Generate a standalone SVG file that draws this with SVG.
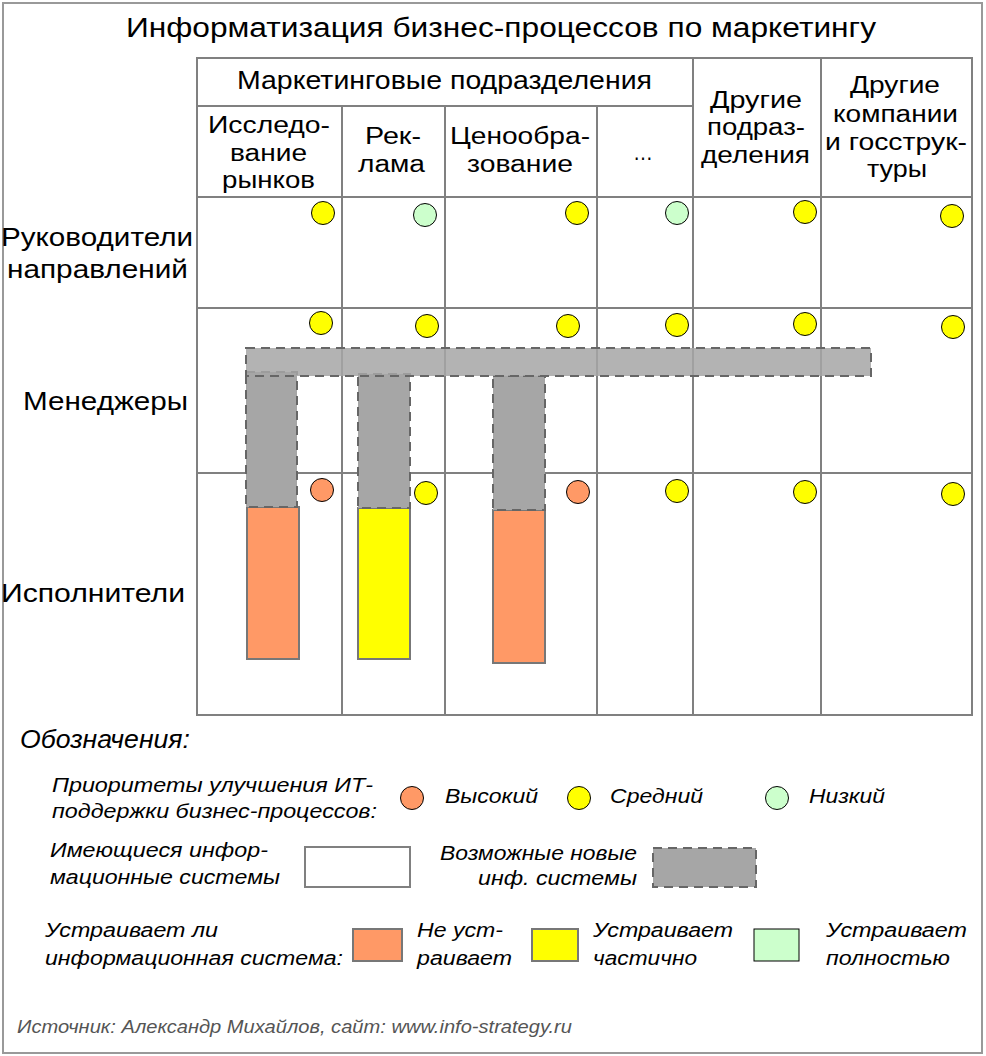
<svg xmlns="http://www.w3.org/2000/svg" width="986" height="1056" viewBox="0 0 986 1056">
<style>
text{font-family:"Liberation Sans",Arial,sans-serif;fill:#000}
.t{font-size:27px}
.h{font-size:23.5px}
.r{font-size:26px}
.lg{font-size:20.5px;font-style:italic}
.grid{stroke:#808080;stroke-width:2;fill:none}
.dot{stroke:#000;stroke-width:1}
.hi{fill:#ff9966}.md{fill:#ffff00}.lo{fill:#ccffcc}
.bar{stroke:#777;stroke-width:2}
.new{fill:#a6a6a6;stroke:#666;stroke-width:2;stroke-dasharray:9,6}
</style>
<rect x="3" y="3" width="979" height="1050" fill="#fff" stroke="#999" stroke-width="2"/>
<text id="title" class="t" x="126" y="37" textLength="750" lengthAdjust="spacingAndGlyphs">Информатизация бизнес-процессов по маркетингу</text>

<g id="grid" class="grid">
<rect x="197" y="58" width="775" height="657"/>
<line x1="197" y1="106" x2="693" y2="106"/>
<line x1="197" y1="197" x2="972" y2="197"/>
<line x1="197" y1="308" x2="972" y2="308"/>
<line x1="197" y1="473" x2="972" y2="473"/>
<line x1="342" y1="106" x2="342" y2="715"/>
<line x1="445" y1="106" x2="445" y2="715"/>
<line x1="597" y1="106" x2="597" y2="716"/>
<line x1="693" y1="58" x2="693" y2="715"/>
<line x1="821" y1="58" x2="821" y2="715"/>
</g>

<g id="headers">
<text x="237" y="89" style="font-size:26px" textLength="415" lengthAdjust="spacingAndGlyphs">Маркетинговые подразделения</text>
<text class="h" x="208" y="133" textLength="122" lengthAdjust="spacingAndGlyphs">Исследо-</text>
<text class="h" x="230" y="161" textLength="77" lengthAdjust="spacingAndGlyphs">вание</text>
<text class="h" x="222" y="188" textLength="93" lengthAdjust="spacingAndGlyphs">рынков</text>
<text class="h" x="365" y="144" textLength="56" lengthAdjust="spacingAndGlyphs">Рек-</text>
<text class="h" x="358" y="172" textLength="67" lengthAdjust="spacingAndGlyphs">лама</text>
<text class="h" x="450" y="144" textLength="140" lengthAdjust="spacingAndGlyphs">Ценообра-</text>
<text class="h" x="467" y="172" textLength="106" lengthAdjust="spacingAndGlyphs">зование</text>
<text class="h" x="633" y="160" textLength="20" lengthAdjust="spacingAndGlyphs">…</text>
<text class="h" x="710" y="108" textLength="92" lengthAdjust="spacingAndGlyphs">Другие</text>
<text class="h" x="707" y="135" textLength="98" lengthAdjust="spacingAndGlyphs">подраз-</text>
<text class="h" x="701" y="163" textLength="109" lengthAdjust="spacingAndGlyphs">деления</text>
<text class="h" x="850" y="93" textLength="90" lengthAdjust="spacingAndGlyphs">Другие</text>
<text class="h" x="833" y="122" textLength="125" lengthAdjust="spacingAndGlyphs">компании</text>
<text class="h" x="825" y="150" textLength="142" lengthAdjust="spacingAndGlyphs">и госструк-</text>
<text class="h" x="867" y="177" textLength="60" lengthAdjust="spacingAndGlyphs">туры</text>
</g>

<g id="rows">
<text class="r" x="1" y="246" textLength="192" lengthAdjust="spacingAndGlyphs">Руководители</text>
<text class="r" x="7" y="278" textLength="181" lengthAdjust="spacingAndGlyphs">направлений</text>
<text class="r" x="23" y="410" textLength="165" lengthAdjust="spacingAndGlyphs">Менеджеры</text>
<text class="r" x="1" y="602" textLength="184" lengthAdjust="spacingAndGlyphs">Исполнители</text>
</g>

<g id="priorities" class="dot">
<circle class="md" cx="323" cy="213" r="11.5"/>
<circle class="lo" cx="425" cy="215" r="11.5"/>
<circle class="md" cx="577" cy="213" r="11.5"/>
<circle class="lo" cx="677" cy="213" r="11.5"/>
<circle class="md" cx="805" cy="212" r="11.5"/>
<circle class="md" cx="952" cy="216" r="11.5"/>
<circle class="md" cx="321" cy="323" r="11.5"/>
<circle class="md" cx="427" cy="326" r="11.5"/>
<circle class="md" cx="568" cy="326" r="11.5"/>
<circle class="md" cx="677" cy="325" r="11.5"/>
<circle class="md" cx="805" cy="324" r="11.5"/>
<circle class="md" cx="953" cy="327" r="11.5"/>
<circle class="hi" cx="322" cy="490" r="11.5"/>
<circle class="md" cx="426" cy="493" r="11.5"/>
<circle class="hi" cx="578" cy="492" r="11.5"/>
<circle class="md" cx="677" cy="491" r="11.5"/>
<circle class="md" cx="805" cy="492" r="11.5"/>
<circle class="md" cx="953" cy="494" r="11.5"/>
</g>

<g id="systems">
<rect class="bar hi" x="247" y="507" width="52" height="152"/>
<rect class="bar md" x="358" y="508" width="52" height="151"/>
<rect class="bar hi" x="493" y="510" width="52" height="153"/>
<rect class="new" x="246" y="372" width="51" height="135"/>
<rect class="new" x="358" y="374" width="52" height="134"/>
<rect class="new" x="493" y="376" width="52" height="134"/>
<rect class="new" x="246" y="348" width="625" height="28" fill-opacity="0.85"/>
</g>

<g id="legend">
<text x="20" y="748" style="font-size:25px;font-style:italic" textLength="170" lengthAdjust="spacingAndGlyphs">Обозначения:</text>
<text class="lg" x="52" y="792" textLength="321" lengthAdjust="spacingAndGlyphs">Приоритеты улучшения ИТ-</text>
<text class="lg" x="52" y="818" textLength="325" lengthAdjust="spacingAndGlyphs">поддержки бизнес-процессов:</text>
<circle class="dot hi" cx="412" cy="798" r="11.5"/>
<text class="lg" x="445" y="803" textLength="93" lengthAdjust="spacingAndGlyphs">Высокий</text>
<circle class="dot md" cx="579" cy="798" r="11.5"/>
<text class="lg" x="610" y="803" textLength="93" lengthAdjust="spacingAndGlyphs">Средний</text>
<circle class="dot lo" cx="777" cy="798" r="11.5"/>
<text class="lg" x="809" y="803" textLength="76" lengthAdjust="spacingAndGlyphs">Низкий</text>

<text class="lg" x="50" y="857" textLength="218" lengthAdjust="spacingAndGlyphs">Имеющиеся инфор-</text>
<text class="lg" x="50" y="884" textLength="230" lengthAdjust="spacingAndGlyphs">мационные системы</text>
<rect x="305" y="847" width="105" height="40" fill="#fff" stroke="#808080" stroke-width="2"/>
<text class="lg" x="440" y="860" textLength="197" lengthAdjust="spacingAndGlyphs">Возможные новые</text>
<text class="lg" x="478" y="885" textLength="159" lengthAdjust="spacingAndGlyphs">инф. системы</text>
<rect class="new" x="653" y="848" width="103" height="39"/>

<text class="lg" x="45" y="937" textLength="173" lengthAdjust="spacingAndGlyphs">Устраивает ли</text>
<text class="lg" x="45" y="965" textLength="298" lengthAdjust="spacingAndGlyphs">информационная система:</text>
<rect class="bar hi" x="353" y="929" width="49" height="32"/>
<text class="lg" x="417" y="937" textLength="86" lengthAdjust="spacingAndGlyphs">Не уст-</text>
<text class="lg" x="417" y="965" textLength="95" lengthAdjust="spacingAndGlyphs">раивает</text>
<rect class="bar md" x="532" y="929" width="46" height="32"/>
<text class="lg" x="593" y="937" textLength="140" lengthAdjust="spacingAndGlyphs">Устраивает</text>
<text class="lg" x="593" y="965" textLength="104" lengthAdjust="spacingAndGlyphs">частично</text>
<rect x="754" y="929" width="45" height="32" fill="#ccffcc" stroke="#000" stroke-width="1"/>
<text class="lg" x="826" y="937" textLength="141" lengthAdjust="spacingAndGlyphs">Устраивает</text>
<text class="lg" x="826" y="965" textLength="124" lengthAdjust="spacingAndGlyphs">полностью</text>

<text x="17" y="1033" style="font-size:18px;font-style:italic;fill:#555" textLength="555" lengthAdjust="spacingAndGlyphs">Источник: Александр Михайлов, сайт: www.info-strategy.ru</text>
</g>
</svg>
